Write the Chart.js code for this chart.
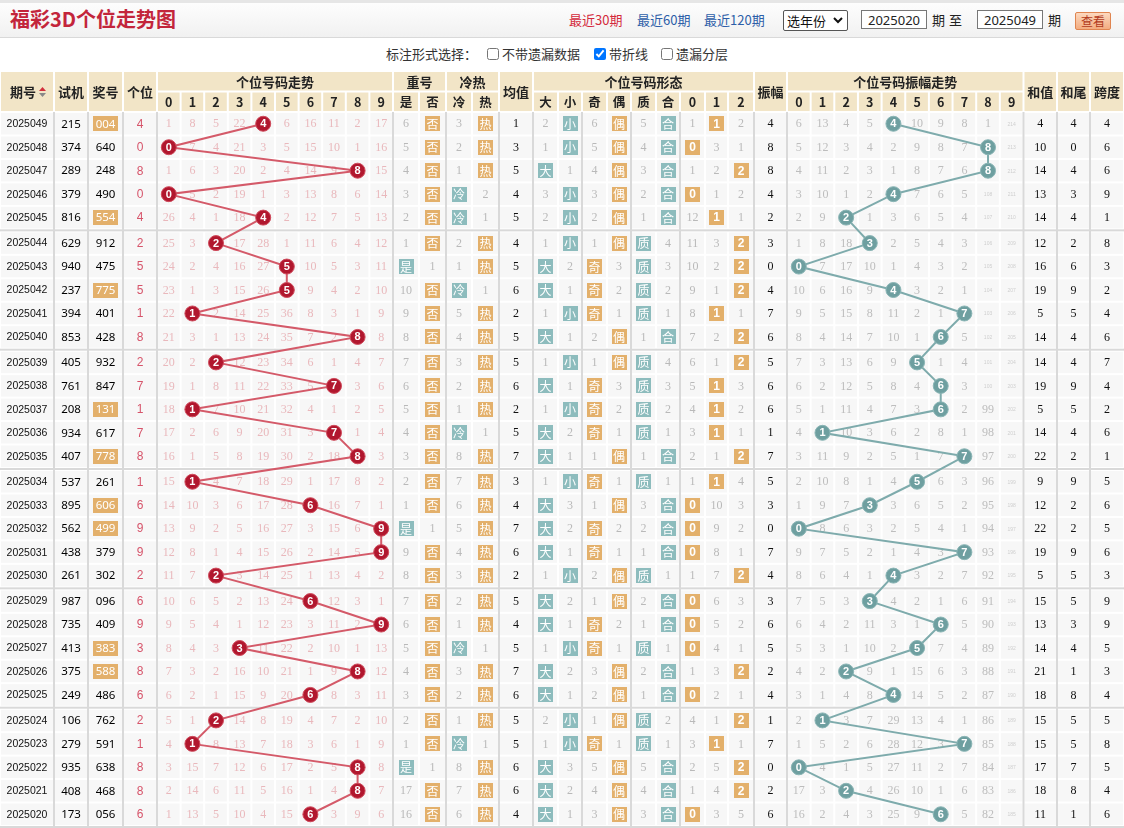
<!DOCTYPE html>
<html lang="zh-CN">
<head>
<meta charset="utf-8">
<title>福彩3D个位走势图</title>
<script src="https://cdn.jsdelivr.net/npm/chart.js@4.4.1/dist/chart.umd.min.js"></script>
<style>
	body { margin: 0; width: 1124px; height: 828px; overflow: hidden; position: relative; background: #fff; font-family: "Noto Sans CJK SC", sans-serif; font-size: 13px; color: #333; }
	#bar { position: absolute; left: 0; top: 0; width: 1124px; height: 34px; border-top: 3px solid #e6e6e6; border-bottom: 1px solid #d9d9d9; background: linear-gradient(#fdfdfd, #f1f1f1); }
	#bar > * { position: absolute; }
	#title { left: 10px; top: 3px; font-size: 20px; font-weight: bold; color: #c3253b; line-height: 26px; }
	.lk { top: 8px; line-height: 18px; color: #2d5ea8; }
	.lk.cur { color: #d42a3c; }
	.lb { top: 8px; line-height: 18px; color: #222; }
	#yr { left: 783px; top: 7px; width: 60px; height: 19px; border: 1px solid #555; border-radius: 2px; background: #fff; color: #111; line-height: 19px; padding-left: 3px; box-sizing: content-box; }
	#yr svg { position: absolute; right: 4px; top: 6px; }
	.ipt { top: 7px; width: 60px; height: 17px; padding: 0 2px; border: 1px solid #777; font-size: 13px; font-family: "Noto Sans", sans-serif; text-align: center; color: #222; background: #fff; }
	#go { left: 1075px; top: 9px; width: 36px; height: 18px; padding: 0; border: 1px solid #e08550; border-radius: 2px; background: linear-gradient(#fcd9bf, #f3ac80); color: #b23a20; font-size: 12px; line-height: 16px; font-family: "Noto Sans CJK SC"; }
	#opts > * { position: absolute; top: 45px; line-height: 18px; color: #333; }
	#opts input { margin: 0; top: 48px; width: 12px; height: 12px; }
	#grid { position: absolute; left: 0; top: 70px; }
</style>
</head>
<body>
<div id="bar">
	<div id="title">福彩3D个位走势图</div>
	<span class="lk cur" style="left:569px">最近30期</span>
	<span class="lk" style="left:637px">最近60期</span>
	<span class="lk" style="left:704px">最近120期</span>
	<div id="yr">选年份<svg width="10" height="7" viewBox="0 0 10 7"><path d="M1 1 L5 5 L9 1" fill="none" stroke="#111" stroke-width="2"/></svg></div>
	<input class="ipt" style="left:861px" value="2025020">
	<span class="lb" style="left:932px">期</span>
	<span class="lb" style="left:949px">至</span>
	<input class="ipt" style="left:977px" value="2025049">
	<span class="lb" style="left:1048px">期</span>
	<button id="go">查看</button>
</div>
<div id="opts">
	<span style="left:386px">标注形式选择：</span>
	<input type="checkbox" style="left:487px"><span style="left:502px">不带遗漏数据</span>
	<input type="checkbox" checked style="left:594px"><span style="left:609px">带折线</span>
	<input type="checkbox" style="left:661px"><span style="left:676px">遗漏分层</span>
</div>
<canvas id="grid"></canvas>
<script>
// rows go from newest (2025049) to oldest (2025020)
const issues = ['2025049', '2025048', '2025047', '2025046', '2025045', '2025044', '2025043', '2025042', '2025041', '2025040',
	'2025039', '2025038', '2025037', '2025036', '2025035', '2025034', '2025033', '2025032', '2025031', '2025030',
	'2025029', '2025028', '2025027', '2025026', '2025025', '2025024', '2025023', '2025022', '2025021', '2025020'];
const trial = ['215', '374', '289', '379', '816', '629', '940', '237', '394', '853', '405', '761', '208', '934', '407',
	'537', '895', '562', '438', '261', '987', '735', '413', '375', '249', '106', '279', '935', '408', '173'];
const draws = ['004', '640', '248', '490', '554', '912', '475', '775', '401', '428', '932', '847', '131', '617', '778',
	'261', '606', '499', '379', '302', '096', '409', '383', '588', '486', '762', '591', '638', '468', '056'];
const units = [4, 0, 8, 0, 4, 2, 5, 5, 1, 8, 2, 7, 1, 7, 8, 1, 6, 9, 9, 2, 6, 9, 3, 8, 6, 2, 1, 8, 8, 6];
// omission per digit 0-9, 0 = hit
const trendMiss = [
	[1, 8, 5, 22, 0, 6, 16, 11, 2, 17], [0, 7, 4, 21, 3, 5, 15, 10, 1, 16], [1, 6, 3, 20, 2, 4, 14, 9, 0, 15],
	[0, 5, 2, 19, 1, 3, 13, 8, 6, 14], [26, 4, 1, 18, 0, 2, 12, 7, 5, 13], [25, 3, 0, 17, 28, 1, 11, 6, 4, 12],
	[24, 2, 4, 16, 27, 0, 10, 5, 3, 11], [23, 1, 3, 15, 26, 0, 9, 4, 2, 10], [22, 0, 2, 14, 25, 36, 8, 3, 1, 9],
	[21, 3, 1, 13, 24, 35, 7, 2, 0, 8], [20, 2, 0, 12, 23, 34, 6, 1, 4, 7], [19, 1, 8, 11, 22, 33, 5, 0, 3, 6],
	[18, 0, 7, 10, 21, 32, 4, 1, 2, 5], [17, 2, 6, 9, 20, 31, 3, 0, 1, 4], [16, 1, 5, 8, 19, 30, 2, 18, 0, 3],
	[15, 0, 4, 7, 18, 29, 1, 17, 8, 2], [14, 10, 3, 6, 17, 28, 0, 16, 7, 1], [13, 9, 2, 5, 16, 27, 3, 15, 6, 0],
	[12, 8, 1, 4, 15, 26, 2, 14, 5, 0], [11, 7, 0, 3, 14, 25, 1, 13, 4, 2], [10, 6, 5, 2, 13, 24, 0, 12, 3, 1],
	[9, 5, 4, 1, 12, 23, 3, 11, 2, 0], [8, 4, 3, 0, 11, 22, 2, 10, 1, 13], [7, 3, 2, 16, 10, 21, 1, 9, 0, 12],
	[6, 2, 1, 15, 9, 20, 0, 8, 3, 11], [5, 1, 0, 14, 8, 19, 4, 7, 2, 10], [4, 0, 8, 13, 7, 18, 3, 6, 1, 9],
	[3, 15, 7, 12, 6, 17, 2, 5, 0, 8], [2, 14, 6, 11, 5, 16, 1, 4, 0, 7], [1, 13, 5, 10, 4, 15, 0, 3, 9, 6]
];
const repeatYes = [6, 5, 4, 3, 2, 1, 0, 10, 9, 8, 7, 6, 5, 4, 3, 2, 1, 0, 9, 8, 7, 6, 5, 4, 3, 2, 1, 0, 17, 16];
const repeatNo = [0, 0, 0, 0, 0, 0, 1, 0, 0, 0, 0, 0, 0, 0, 0, 0, 0, 1, 0, 0, 0, 0, 0, 0, 0, 0, 0, 1, 0, 0];
const coldMiss = [3, 2, 1, 0, 0, 2, 1, 0, 5, 4, 3, 2, 1, 0, 8, 7, 6, 5, 4, 3, 2, 1, 0, 3, 2, 1, 0, 8, 7, 6];
const hotMiss = [0, 0, 0, 2, 1, 0, 0, 1, 0, 0, 0, 0, 0, 1, 0, 0, 0, 0, 0, 0, 0, 0, 1, 0, 0, 0, 1, 0, 0, 0];
const avgVals = [1, 3, 5, 4, 5, 4, 5, 6, 2, 5, 5, 6, 2, 5, 7, 3, 4, 7, 6, 2, 5, 4, 5, 7, 6, 5, 5, 6, 6, 4];
const bigMiss = [2, 1, 0, 3, 2, 1, 0, 0, 1, 0, 1, 0, 1, 0, 0, 1, 0, 0, 0, 1, 0, 0, 1, 0, 0, 2, 1, 0, 0, 0];
const smallMiss = [0, 0, 1, 0, 0, 0, 2, 1, 0, 1, 0, 1, 0, 2, 1, 0, 3, 2, 1, 0, 2, 1, 0, 2, 1, 0, 0, 3, 2, 1];
const oddMiss = [6, 5, 4, 3, 2, 1, 0, 0, 0, 2, 1, 0, 0, 0, 1, 0, 1, 0, 0, 2, 1, 0, 0, 3, 2, 1, 0, 5, 4, 3];
const evenMiss = [0, 0, 0, 0, 0, 0, 3, 2, 1, 0, 0, 3, 2, 1, 0, 1, 0, 2, 1, 0, 0, 2, 1, 0, 0, 0, 1, 0, 0, 0];
const primeMiss = [5, 4, 3, 2, 1, 0, 0, 0, 0, 1, 0, 0, 0, 0, 1, 0, 3, 2, 1, 0, 2, 1, 0, 2, 1, 0, 0, 5, 4, 3];
const compMiss = [0, 0, 0, 0, 0, 4, 3, 2, 1, 0, 4, 3, 2, 1, 0, 1, 0, 0, 0, 1, 0, 0, 1, 0, 0, 2, 1, 0, 0, 0];
const road0 = [1, 0, 1, 0, 12, 11, 10, 9, 8, 7, 6, 5, 4, 3, 2, 1, 0, 0, 0, 1, 0, 0, 0, 1, 0, 4, 3, 2, 1, 0];
const road1 = [0, 3, 2, 1, 0, 3, 2, 1, 0, 2, 1, 0, 0, 0, 1, 0, 10, 9, 8, 7, 6, 5, 4, 3, 2, 1, 0, 5, 4, 3];
const road2 = [2, 1, 0, 2, 1, 0, 0, 0, 1, 0, 0, 3, 2, 1, 0, 4, 3, 2, 1, 0, 3, 2, 1, 0, 1, 0, 1, 0, 0, 5];
const ampVals = [4, 8, 8, 4, 2, 3, 0, 4, 7, 6, 5, 6, 6, 1, 7, 5, 3, 0, 7, 4, 3, 6, 5, 2, 4, 1, 7, 0, 2, 6];
const ampMiss = [
	[6, 13, 4, 5, 0, 10, 9, 8, 1, 214], [5, 12, 3, 4, 2, 9, 8, 7, 0, 213], [4, 11, 2, 3, 1, 8, 7, 6, 0, 212],
	[3, 10, 1, 2, 0, 7, 6, 5, 108, 211], [2, 9, 0, 1, 3, 6, 5, 4, 107, 210], [1, 8, 18, 0, 2, 5, 4, 3, 106, 209],
	[0, 7, 17, 10, 1, 4, 3, 2, 105, 208], [10, 6, 16, 9, 0, 3, 2, 1, 104, 207], [9, 5, 15, 8, 11, 2, 1, 0, 103, 206],
	[8, 4, 14, 7, 10, 1, 0, 5, 102, 205], [7, 3, 13, 6, 9, 0, 1, 4, 101, 204], [6, 2, 12, 5, 8, 4, 0, 3, 100, 203],
	[5, 1, 11, 4, 7, 3, 0, 2, 99, 202], [4, 0, 10, 3, 6, 2, 8, 1, 98, 201], [3, 11, 9, 2, 5, 1, 7, 0, 97, 200],
	[2, 10, 8, 1, 4, 0, 6, 3, 96, 199], [1, 9, 7, 0, 3, 6, 5, 2, 95, 198], [0, 8, 6, 3, 2, 5, 4, 1, 94, 197],
	[9, 7, 5, 2, 1, 4, 3, 0, 93, 196], [8, 6, 4, 1, 0, 3, 2, 7, 92, 195], [7, 5, 3, 0, 4, 2, 1, 6, 91, 194],
	[6, 4, 2, 11, 3, 1, 0, 5, 90, 193], [5, 3, 1, 10, 2, 0, 7, 4, 89, 192], [4, 2, 0, 9, 1, 15, 6, 3, 88, 191],
	[3, 1, 4, 8, 0, 14, 5, 2, 87, 190], [2, 0, 3, 7, 29, 13, 4, 1, 86, 189], [1, 5, 2, 6, 28, 12, 3, 0, 85, 188],
	[0, 4, 1, 5, 27, 11, 2, 7, 84, 187], [17, 3, 0, 4, 26, 10, 1, 6, 83, 186], [16, 2, 4, 3, 25, 9, 0, 5, 82, 185]
];
const sumVals = [4, 10, 14, 13, 14, 12, 16, 19, 5, 14, 14, 19, 5, 14, 22, 9, 12, 22, 19, 5, 15, 13, 14, 21, 18, 15, 15, 17, 18, 11];
const sumTail = [4, 0, 4, 3, 4, 2, 6, 9, 5, 4, 4, 9, 5, 4, 2, 9, 2, 2, 9, 5, 5, 3, 4, 1, 8, 5, 5, 7, 8, 1];
const spanVals = [4, 6, 6, 9, 1, 8, 3, 2, 4, 6, 7, 4, 2, 6, 1, 5, 6, 5, 6, 3, 9, 9, 5, 3, 4, 5, 8, 5, 4, 6];

const headTop = ['期号', '试机', '奖号', '个位', '个位号码走势', '重号', '冷热', '均值', '个位号码形态', '振幅', '个位号码振幅走势', '和值', '和尾', '跨度'];
const digits = ['0', '1', '2', '3', '4', '5', '6', '7', '8', '9'];

// ---- layout (reference pixels) ----
const ROW_PX = 23.45, GAP_PX = 2, HEAD_PX = 41, TOP_PX = 1;
const GAPU = GAP_PX / ROW_PX, HEADU = HEAD_PX / ROW_PX;
const GROUP_W = [[54], [34], [35], [34], Array(10).fill(23.6), [26, 27], [26, 27], [34], [25, 24], [25, 24], [25, 24], [25, 23, 26], [33], Array(10).fill(23.65), [33.5], [33], [34]];
const WIDTHS = GROUP_W.flat();
const EDGES = WIDTHS.reduce((a, w) => [...a, a[a.length - 1] + w], [0]);
const TOTAL_W = EDGES[EDGES.length - 1];
const GROUP_ENDS = GROUP_W.reduce((a, g) => [...a, a[a.length - 1] + g.length], [0]).slice(1, -1);
// header top row: [first col, last col], second row labels by column
const HEAD_SPAN = [[0, 0], [1, 1], [2, 2], [3, 3], [4, 13], [14, 15], [16, 17], [18, 18], [19, 27], [28, 28], [29, 38], [39, 39], [40, 40], [41, 41]];
const SUB = [null, null, null, null, ...digits, '是', '否', '冷', '热', null, '大', '小', '奇', '偶', '质', '合', '0', '1', '2', null, ...digits, null, null, null];

const rowTop = i => i + Math.floor(i / 5) * GAPU;
const rowMid = i => rowTop(i) + 0.5;
const Y_MIN = -(HEAD_PX + TOP_PX) / ROW_PX;
const Y_MAX = rowTop(29) + 1 + GAPU;
const digitAxis = first => {
	const l = EDGES[first], cw = WIDTHS[first];
	return { type: 'linear', display: false, min: -(l + cw / 2) / cw, max: (TOTAL_W - l - cw / 2) / cw };
};

const TEAL = '#8dbcbd', ORANGE = '#e3b06b', CELL = '#f7f7f7', HEAD_BG = '#f2e5c7', SEP = '#d9d9d9';
const F_ISSUE = '10.5px "Liberation Sans"', F_NUM = '11.5px "Noto Sans"', F_MISS = '12px "Liberation Serif"';
const F_BOX = '12px "Noto Sans CJK SC"', F_HEAD = 'bold 13px "Noto Sans CJK SC"';

const FLAGS = {
	14: [repeatYes, '是', TEAL], 15: [repeatNo, '否', ORANGE], 16: [coldMiss, '冷', TEAL], 17: [hotMiss, '热', ORANGE],
	19: [bigMiss, '大', TEAL], 20: [smallMiss, '小', TEAL], 21: [oddMiss, '奇', ORANGE], 22: [evenMiss, '偶', ORANGE],
	23: [primeMiss, '质', TEAL], 24: [compMiss, '合', TEAL], 25: [road0, '0', ORANGE], 26: [road1, '1', ORANGE], 27: [road2, '2', ORANGE]
};
const hasPair = s => new Set(s.split('')).size < 3;

const tablePlugin = {
	id: 'table',
	beforeDatasetsDraw(chart) {
		const { ctx, scales: { x, y } } = chart;
		const X = v => x.getPixelForValue(v), Y = v => y.getPixelForValue(v);
		const txt = (s, cx, cy, font, color) => {
			ctx.font = font;
			ctx.fillStyle = color;
			ctx.textAlign = 'center';
			ctx.textBaseline = 'middle';
			ctx.fillText(s, cx, cy);
		};
		const box = (s, cx, cy, w, h, bg, font) => {
			ctx.fillStyle = bg;
			ctx.fillRect(Math.round(cx - w / 2), Math.round(cy - h / 2), w, h);
			txt(s, cx, cy + 0.5, font || F_BOX, '#fff');
		};
		ctx.save();
		ctx.fillStyle = '#fff';
		ctx.fillRect(0, 0, chart.width, chart.height);

		// header
		const hTop = Y(-HEADU), hMid = Y(-HEADU / 2), hBot = Y(0);
		HEAD_SPAN.forEach(([a, b], k) => {
			const l = X(EDGES[a]), r = X(EDGES[b + 1]);
			const bottom = SUB[a] ? hMid : hBot;
			ctx.fillStyle = HEAD_BG;
			ctx.fillRect(l + 1, hTop + 1, r - l - 2, bottom - hTop - 2);
			const cx = (l + r) / 2, cy = (hTop + bottom) / 2 + 0.5;
			if (k === 0) {
				txt(headTop[k], cx - 4, cy, F_HEAD, '#222');
				ctx.fillStyle = '#d2303c';
				ctx.beginPath(); ctx.moveTo(cx + 12, cy - 1); ctx.lineTo(cx + 15.5, cy - 5); ctx.lineTo(cx + 19, cy - 1); ctx.fill();
				ctx.fillStyle = '#888';
				ctx.beginPath(); ctx.moveTo(cx + 12, cy + 1); ctx.lineTo(cx + 15.5, cy + 5); ctx.lineTo(cx + 19, cy + 1); ctx.fill();
			} else {
				txt(headTop[k], cx, cy, F_HEAD, '#222');
			}
		});
		SUB.forEach((s, c) => {
			if (!s) return;
			const l = X(EDGES[c]), r = X(EDGES[c + 1]);
			ctx.fillStyle = HEAD_BG;
			ctx.fillRect(l + 1, hMid + 1, r - l - 2, hBot - hMid - 2);
			txt(s, (l + r) / 2, (hMid + hBot) / 2 + 0.5, 'bold 12.5px "Noto Sans CJK SC"', '#222');
		});

		// body cells
		issues.forEach((_, i) => {
			const t = Y(rowTop(i)), b = Y(rowTop(i) + 1);
			ctx.fillStyle = CELL;
			WIDTHS.forEach((w, c) => {
				const l = X(EDGES[c]), r = X(EDGES[c + 1]);
				ctx.fillRect(l + 1, t + 1, r - l - 2, b - t - 2);
			});
		});
		ctx.fillStyle = SEP;
		GROUP_ENDS.forEach(e => ctx.fillRect(X(EDGES[e]) - 1, hBot, 2, Y(Y_MAX) - hBot));
		for (let k = 1; k <= 6; k++) {
			const a = Y(rowTop(5 * k - 1) + 1), b = Y(rowTop(5 * k - 1) + 1 + GAPU);
			ctx.fillRect(0, a, chart.width, Math.max(2, b - a));
		}

		// body texts
		const cxOf = c => (X(EDGES[c]) + X(EDGES[c + 1])) / 2;
		issues.forEach((issue, i) => {
			const cy = Y(rowMid(i)) + 0.5;
			txt(issue, cxOf(0), cy, F_ISSUE, '#111');
			txt(trial[i], cxOf(1), cy, F_NUM, '#000');
			if (hasPair(draws[i])) box(draws[i], cxOf(2), cy - 0.5, 25, 15, ORANGE, F_NUM);
			else txt(draws[i], cxOf(2), cy, F_NUM, '#000');
			txt(String(units[i]), cxOf(3), cy, '12px "Liberation Sans"', '#d6546a');
			trendMiss[i].forEach((m, d) => {
				if (m) txt(String(m), cxOf(4 + d), cy, F_MISS, '#e9b8bc');
			});
			Object.entries(FLAGS).forEach(([c, [arr, label, bg]]) => {
				const m = arr[i];
				if (m === 0) box(label, cxOf(+c), cy - 0.5, 15, 15, bg, /\d/.test(label) ? 'bold 12px "Liberation Sans"' : F_BOX);
				else txt(String(m), cxOf(+c), cy, F_MISS, '#b9b9b9');
			});
			txt(String(avgVals[i]), cxOf(18), cy, F_MISS, '#111');
			txt(String(ampVals[i]), cxOf(28), cy, F_MISS, '#111');
			ampMiss[i].forEach((m, d) => {
				if (!m) return;
				if (m >= 100) txt(String(m), cxOf(29 + d), cy, '5px "Liberation Sans"', '#cfcfcf');
				else txt(String(m), cxOf(29 + d), cy, F_MISS, '#bdbdbd');
			});
			txt(String(sumVals[i]), cxOf(39), cy, F_MISS, '#111');
			txt(String(sumTail[i]), cxOf(40), cy, F_MISS, '#111');
			txt(String(spanVals[i]), cxOf(41), cy, F_MISS, '#111');
		});
		ctx.restore();
	}
};

const ballPlugin = {
	id: 'balls',
	afterDatasetsDraw(chart) {
		const ctx = chart.ctx;
		ctx.save();
		ctx.font = 'bold 11px "Liberation Sans"';
		ctx.fillStyle = '#fff';
		ctx.textAlign = 'center';
		ctx.textBaseline = 'middle';
		chart.data.datasets.forEach((ds, di) => {
			chart.getDatasetMeta(di).data.forEach((pt, i) => ctx.fillText(String(ds.data[i].x), pt.x, pt.y + 0.5));
		});
		ctx.restore();
	}
};

const canvas = document.getElementById('grid');
canvas.width = TOTAL_W;
canvas.height = Math.round((Y_MAX - Y_MIN) * ROW_PX);
canvas.style.width = TOTAL_W + 'px';
canvas.style.height = canvas.height + 'px';

new Chart(canvas, {
	type: 'line',
	data: {
		datasets: [
			{
				label: '个位号码走势',
				xAxisID: 'xd',
				yAxisID: 'y',
				data: units.map((d, i) => ({ x: d, y: rowMid(i) })),
				borderColor: '#d45a69',
				borderWidth: 2,
				pointRadius: 7.5,
				pointBackgroundColor: '#b1172e',
				pointBorderColor: '#cf4a5b',
				pointBorderWidth: 1,
				tension: 0,
				clip: false
			},
			{
				label: '个位号码振幅走势',
				xAxisID: 'xa',
				yAxisID: 'y',
				data: ampVals.map((d, i) => ({ x: d, y: rowMid(i) })),
				borderColor: '#7eabac',
				borderWidth: 2,
				pointRadius: 7.5,
				pointBackgroundColor: '#6e9fa0',
				pointBorderColor: '#8ab5b5',
				pointBorderWidth: 1,
				tension: 0,
				clip: false
			}
		]
	},
	options: {
		responsive: false,
		devicePixelRatio: 1,
		animation: false,
		events: [],
		layout: { padding: 0, autoPadding: false },
		scales: {
			x: { type: 'linear', display: false, min: 0, max: TOTAL_W },
			xd: digitAxis(4),
			xa: digitAxis(29),
			y: { type: 'linear', display: false, reverse: true, min: Y_MIN, max: Y_MAX }
		},
		plugins: { legend: { display: false }, tooltip: { enabled: false } }
	},
	plugins: [tablePlugin, ballPlugin]
});
</script>
</body>
</html>
